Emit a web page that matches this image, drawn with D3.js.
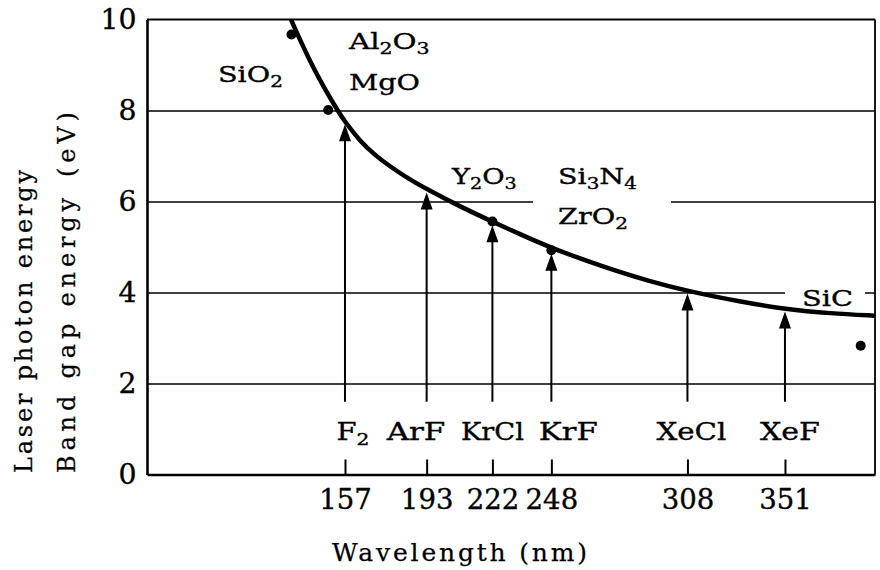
<!DOCTYPE html>
<html>
<head>
<meta charset="utf-8">
<script src="https://cdnjs.cloudflare.com/ajax/libs/d3/7.8.5/d3.min.js"></script>
<style>
    body { margin: 0; background: #fff; }
    svg { display: block; font-family: "DejaVu Serif", serif; }
    text { fill: #000; stroke: #000; stroke-width: 0.35px; }
</style>
</head>
<body>
<div class="chartContainer"></div>
<script>
// laser photon energy curve
var curveWavelength = [133.2, 138, 143.3, 148.6, 153.5, 157, 163.6, 170.2, 176.8, 185.7, 193.2, 207.7, 221.8, 234.2, 247.8, 269.4, 291.5, 309.1, 331.2, 351.4, 370.9, 390.7];
var curveEnergy = [10.0, 9.46, 8.91, 8.43, 8.02, 7.75, 7.33, 7.02, 6.77, 6.48, 6.27, 5.89, 5.56, 5.28, 4.98, 4.59, 4.24, 4.02, 3.80, 3.63, 3.54, 3.49];

// excimer / F2 lasers
var laserNames = ["F_2", "ArF", "KrCl", "KrF", "XeCl", "XeF"];
var laserWavelength = [157, 193, 222, 248, 308, 351];
var laserTipEnergy = [7.7, 6.2, 5.48, 4.85, 3.98, 3.58];

// band gap points
var gapWavelength = [133.4, 149.6, 222, 248, 384.4];
var gapEnergy = [9.67, 8.01, 5.56, 4.93, 2.83];

var materialNames = ["SiO_2", "Al_2O_3", "MgO", "Y_2O_3", "Si_3N_4", "ZrO_2", "SiC"];

var yTicks = [0, 2, 4, 6, 8, 10];
var gridTicks = [2, 4, 6, 8];

var margin = {left: 147, top: 19.5},
    width = 728,
    height = 455;

var svg = d3.select(".chartContainer")
    .append("svg")
    .attr("width", 880)
    .attr("height", 570);

var x = d3.scaleLinear().domain([69.7, 390.7]).range([0, width]);
var y = d3.scaleLinear().domain([0, 10]).range([height, 0]);

var g = svg.append("g")
    .attr("transform", "translate(" + margin.left + "," + margin.top + ")");

g.append("clipPath").attr("id", "plotClip")
    .append("rect").attr("width", width).attr("height", height);

// write "Al_2O_3" style labels with real subscripts
function addChem(t, str) {
    var parts = str.split(/(_\d)/).filter(function (p) { return p !== ""; });
    var down = false;
    parts.forEach(function (p) {
        if (p.charAt(0) === "_") {
            t.append("tspan").attr("font-size", "0.7em").attr("dy", 5).text(p.slice(1));
            down = true;
        } else {
            t.append("tspan").attr("dy", down ? -5 : 0).text(p);
            down = false;
        }
    });
}

// place text stretched to the width it has in the figure
function placeText(parent, str, px, py, w, anchor, rot, size) {
    var t = parent.append("text").attr("x", 0).attr("y", 0)
        .attr("font-size", size);
    addChem(t, str);
    var nat = t.node().getBBox().width;
    var sx = w / nat;
    var x0 = anchor === "middle" ? -w / 2 : 0;
    t.attr("transform", "translate(" + px + "," + py + ")" +
        (rot ? " rotate(" + rot + ")" : "") +
        " translate(" + x0 + ",0) scale(" + sx + ",1)");
    return t;
}

// letter-spaced titles
function spacedText(parent, str, px, py, w, rot, size) {
    return parent.append("text")
        .attr("transform", "translate(" + px + "," + py + ")" + (rot ? " rotate(" + rot + ")" : ""))
        .attr("font-size", size)
        .attr("textLength", w)
        .attr("lengthAdjust", "spacing")
        .style("stroke-width", "0.25px")
        .text(str);
}

// grid lines
g.append("g")
    .call(d3.axisLeft(y).tickValues(gridTicks).tickSize(-width).tickFormat(""))
    .call(function (a) {
        a.select(".domain").remove();
        a.selectAll("line").attr("stroke", "#000").attr("stroke-width", 1.3);
    });

// white gaps where labels break the grid lines
g.append("rect")
    .attr("x", 533 - margin.left).attr("width", 138)
    .attr("y", y(6) - 4).attr("height", 8).attr("fill", "#fff");
g.append("rect")
    .attr("x", 785 - margin.left).attr("width", 80)
    .attr("y", y(4) - 4).attr("height", 8).attr("fill", "#fff");

// frame top and right
g.append("line").attr("x1", 0).attr("x2", width).attr("y1", 0).attr("y2", 0)
    .attr("stroke", "#000").attr("stroke-width", 1.8);
g.append("line").attr("x1", width).attr("x2", width).attr("y1", 0).attr("y2", height)
    .attr("stroke", "#000").attr("stroke-width", 1.8);

// y axis
g.append("g")
    .call(d3.axisLeft(y).tickValues(yTicks).tickSize(0).tickPadding(10))
    .call(function (a) {
        a.select(".domain").attr("stroke-width", 2.6);
        a.selectAll("text").attr("font-size", 27).attr("font-family", "DejaVu Serif")
            .attr("transform", "scale(1.05,1)");
    });

// x axis, ticks pointing into the plot
g.append("g")
    .attr("transform", "translate(0," + height + ")")
    .call(d3.axisBottom(x).tickValues(laserWavelength).tickSize(-15).tickSizeOuter(0).tickPadding(15))
    .call(function (a) {
        a.select(".domain").attr("stroke-width", 2.6);
        a.selectAll(".tick line").attr("stroke-width", 2);
        a.selectAll("text").attr("font-size", 27).attr("font-family", "DejaVu Serif")
            .attr("transform", "scale(1.02,1)");
    });

// material labels
placeText(g, materialNames[0], 218 - margin.left, 82 - margin.top, 65, "start", 0, 23);
placeText(g, materialNames[1], 349 - margin.left, 49 - margin.top, 82, "start", 0, 23);
placeText(g, materialNames[2], 349 - margin.left, 90 - margin.top, 71, "start", 0, 23);
placeText(g, materialNames[3], 452 - margin.left, 184 - margin.top, 66, "start", 0, 23);
placeText(g, materialNames[4], 558 - margin.left, 184 - margin.top, 79, "start", 0, 23);
placeText(g, materialNames[5], 558 - margin.left, 224 - margin.top, 70, "start", 0, 23);
placeText(g, materialNames[6], 802 - margin.left, 306 - margin.top, 51, "start", 0, 23);

// photon energy curve
var line = d3.line()
    .x(function (d) { return x(d[0]); })
    .y(function (d) { return y(d[1]); })
    .curve(d3.curveBasis);

g.append("path")
    .datum(curveWavelength.map(function (w, i) { return [w, curveEnergy[i]]; }))
    .attr("clip-path", "url(#plotClip)")
    .attr("d", line)
    .attr("fill", "none")
    .attr("stroke", "#000")
    .attr("stroke-width", 4.5);

// laser arrows
var labelShift = [8, -10, 0, 17, 4, 5];
var labelWidth = [33, 60, 63, 59, 70, 60];

laserWavelength.forEach(function (w, i) {
    var tipY = y(laserTipEnergy[i]);
    g.append("line")
        .attr("x1", x(w)).attr("x2", x(w))
        .attr("y1", y(1.6)).attr("y2", tipY + 10)
        .attr("stroke", "#000").attr("stroke-width", 2);
    g.append("path")
        .attr("d", "M0,0L-6,17L6,17Z")
        .attr("transform", "translate(" + x(w) + "," + tipY + ")")
        .attr("fill", "#000");
    placeText(g, laserNames[i], x(w) + labelShift[i], 440 - margin.top, labelWidth[i], "middle", 0, 25);
});

// band gap dots
g.selectAll("circle")
    .data(gapWavelength)
    .enter()
    .append("circle")
    .attr("cx", function (d) { return x(d); })
    .attr("cy", function (d, i) { return y(gapEnergy[i]); })
    .attr("r", 5)
    .attr("fill", "#000");

// axis titles
spacedText(svg, "Wavelength (nm)", 332, 561, 255, 0, 25);
spacedText(svg, "Laser photon energy", 32, 473, 303, -90, 24);
spacedText(svg, "Band gap energy", 75, 473, 275, -90, 24);
spacedText(svg, "(eV)", 75, 177, 65, -90, 24);
</script>
</body>
</html>
